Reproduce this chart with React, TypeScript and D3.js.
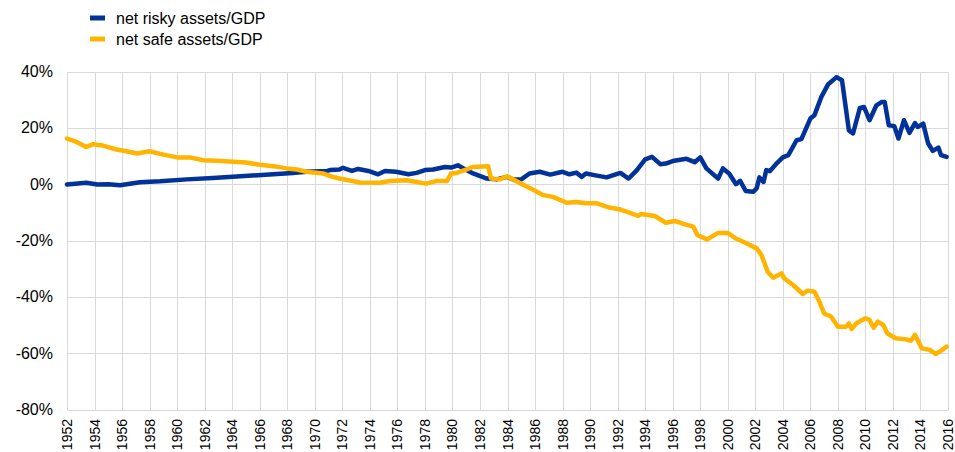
import React, { useEffect, useRef } from 'react';
import * as d3 from 'd3';

// net risky assets / GDP (%)
const riskyYears = [1952.0, 1953.4, 1954.2, 1955.0, 1955.85, 1957.3, 1958.75, 1960.7, 1962.6, 1964.6, 1966.7, 1968.4, 1969.4, 1970.9, 1971.1, 1971.8, 1972.05, 1972.7, 1973.15, 1973.9, 1974.6, 1975.1, 1975.9, 1976.8, 1977.4, 1978.0, 1978.6, 1979.45, 1979.9, 1980.4, 1980.8, 1981.5, 1982.5, 1983.2, 1983.95, 1984.4, 1985.0, 1985.6, 1986.35, 1987.1, 1988.0, 1988.5, 1989.0, 1989.4, 1989.7, 1990.3, 1991.2, 1992.2, 1992.8, 1993.4, 1994.0, 1994.5, 1995.1, 1995.5, 1996.0, 1997.0, 1997.6, 1998.0, 1998.45, 1998.8, 1999.3, 1999.65, 2000.1, 2000.6, 2000.9, 2001.3, 2001.85, 2002.1, 2002.3, 2002.6, 2002.8, 2003.05, 2003.5, 2004.0, 2004.4, 2005.0, 2005.35, 2006.0, 2006.3, 2006.8, 2007.3, 2007.9, 2008.3, 2008.6, 2008.8, 2009.1, 2009.6, 2009.9, 2010.3, 2010.8, 2011.2, 2011.4, 2011.7, 2012.1, 2012.4, 2012.8, 2013.2, 2013.6, 2013.8, 2014.2, 2014.55, 2014.9, 2015.3, 2015.5, 2015.9];
const riskyValues = [-0.1, 0.5, -0.1, 0.0, -0.4, 0.7, 1.0, 1.7, 2.2, 2.8, 3.4, 4.0, 4.4, 4.7, 5.0, 5.2, 5.8, 4.7, 5.4, 4.7, 3.5, 4.7, 4.4, 3.5, 4.0, 5.0, 5.2, 6.1, 5.9, 6.7, 5.6, 3.8, 2.0, 1.7, 2.6, 1.7, 1.7, 3.8, 4.4, 3.4, 4.4, 3.5, 4.1, 2.6, 3.8, 3.2, 2.4, 4.0, 2.0, 5.0, 8.8, 9.7, 7.1, 7.3, 8.2, 9.0, 7.8, 9.5, 5.6, 4.1, 2.0, 5.6, 3.8, 0.0, 1.2, -2.4, -2.7, -1.5, 2.4, 0.8, 5.0, 4.6, 7.1, 9.5, 10.3, 15.6, 16.0, 23.3, 24.5, 31.0, 35.5, 38.0, 36.9, 26.2, 19.1, 18.0, 27.1, 27.4, 22.7, 28.0, 29.2, 29.2, 20.9, 20.6, 16.2, 22.7, 18.2, 21.7, 20.3, 21.5, 14.5, 11.8, 13.0, 10.3, 9.7];

// net safe assets / GDP (%)
const safeYears = [1952.0, 1952.7, 1953.4, 1953.9, 1954.6, 1955.6, 1956.3, 1957.1, 1958.0, 1959.0, 1960.0, 1960.9, 1961.9, 1962.9, 1964.1, 1965.0, 1966.0, 1967.0, 1967.95, 1968.7, 1969.4, 1970.6, 1971.3, 1971.8, 1973.3, 1974.7, 1975.45, 1976.7, 1977.4, 1978.1, 1978.8, 1979.6, 1979.9, 1980.3, 1981.0, 1981.5, 1982.6, 1982.8, 1983.45, 1983.95, 1984.4, 1985.1, 1985.9, 1986.6, 1987.3, 1988.3, 1989.0, 1989.7, 1990.5, 1991.4, 1992.2, 1992.8, 1993.5, 1993.7, 1994.7, 1995.5, 1996.2, 1996.9, 1997.5, 1997.8, 1998.5, 1999.3, 2000.0, 2000.6, 2001.35, 2002.1, 2002.45, 2002.9, 2003.3, 2003.65, 2003.9, 2004.1, 2004.75, 2005.45, 2005.8, 2006.3, 2006.6, 2007.0, 2007.5, 2008.0, 2008.6, 2008.8, 2009.0, 2009.35, 2010.0, 2010.3, 2010.6, 2010.9, 2011.3, 2011.6, 2012.2, 2012.95, 2013.3, 2013.6, 2014.1, 2014.7, 2015.1, 2015.5, 2015.9];
const safeValues = [16.2, 15.0, 13.2, 14.2, 13.7, 12.3, 11.7, 10.9, 11.7, 10.5, 9.5, 9.5, 8.5, 8.3, 8.0, 7.7, 6.9, 6.4, 5.6, 5.2, 4.4, 3.8, 2.6, 2.0, 0.6, 0.5, 1.1, 1.4, 0.8, 0.2, 1.1, 1.1, 3.8, 4.0, 5.2, 6.1, 6.4, 2.0, 1.7, 2.8, 1.7, -0.1, -2.1, -3.9, -4.5, -6.6, -6.3, -6.8, -6.8, -8.3, -9.0, -10.0, -11.3, -10.6, -11.3, -13.7, -13.1, -14.3, -15.1, -18.1, -19.6, -17.3, -17.3, -19.3, -21.0, -22.8, -25.2, -31.1, -33.2, -32.3, -31.7, -33.4, -35.8, -39.0, -37.8, -38.2, -41.1, -45.9, -47.0, -50.6, -50.6, -49.4, -51.4, -49.4, -47.6, -48.2, -51.0, -48.8, -50.0, -53.0, -54.7, -55.1, -55.6, -53.5, -58.3, -58.9, -60.3, -59.1, -57.7];

const yTicks = [40, 20, 0, -20, -40, -60, -80];
const xTicks = d3.range(1952, 2017, 2);

const series = [
    { name: 'net risky assets/GDP', years: riskyYears, values: riskyValues, color: '#003299' },
    { name: 'net safe assets/GDP', years: safeYears, values: safeValues, color: '#FFB400' },
];

const FONT = '"Liberation Sans", Arial, sans-serif';

const App = () => {
    const svgRef = useRef(null);

    useEffect(() => {
        const svg = d3.select(svgRef.current);
        svg.selectAll('*').remove();

        const x = d3.scaleLinear().domain([1952, 2016]).range([67, 948]);
        const y = d3.scaleLinear().domain([-80, 40]).range([409.5, 71.5]);
        const crisp = v => Math.round(v) + 0.5;

        // grid
        svg.append('g')
            .selectAll('line')
            .data(yTicks)
            .enter()
            .append('line')
            .attr('x1', crisp(x(1952)))
            .attr('x2', crisp(x(2016)))
            .attr('y1', d => crisp(y(d)))
            .attr('y2', d => crisp(y(d)))
            .attr('stroke', '#d9d9d9')
            .attr('stroke-width', 1);

        svg.append('g')
            .selectAll('line')
            .data(xTicks)
            .enter()
            .append('line')
            .attr('x1', d => crisp(x(d)))
            .attr('x2', d => crisp(x(d)))
            .attr('y1', crisp(y(40)))
            .attr('y2', crisp(y(-80)))
            .attr('stroke', '#d9d9d9')
            .attr('stroke-width', 1);

        // y labels
        svg.append('g')
            .selectAll('text')
            .data(yTicks)
            .enter()
            .append('text')
            .attr('x', 53)
            .attr('y', d => y(d) + 5.5)
            .attr('text-anchor', 'end')
            .attr('font-family', FONT)
            .attr('font-size', 16)
            .attr('fill', '#000')
            .text(d => `${d}%`);

        // x labels, rotated
        svg.append('g')
            .selectAll('text')
            .data(xTicks)
            .enter()
            .append('text')
            .attr('transform', d => `translate(${x(d) + 5},419) rotate(-90)`)
            .attr('text-anchor', 'end')
            .attr('font-family', FONT)
            .attr('font-size', 14)
            .attr('fill', '#000')
            .text(d => d);

        // lines
        const line = d3.line()
            .x(d => x(d[0]))
            .y(d => y(d[1]));

        series.forEach(s => {
            svg.append('path')
                .datum(s.years.map((yr, i) => [yr, s.values[i]]))
                .attr('d', line)
                .attr('fill', 'none')
                .attr('stroke', s.color)
                .attr('stroke-width', 4.5)
                .attr('stroke-linejoin', 'round')
                .attr('stroke-linecap', 'round');
        });

        // legend
        const legend = svg.append('g');
        series.forEach((s, i) => {
            legend.append('rect')
                .attr('x', 90)
                .attr('y', 15.5 + i * 21)
                .attr('width', 15)
                .attr('height', 5)
                .attr('fill', s.color);
            legend.append('text')
                .attr('x', 116)
                .attr('y', 24 + i * 20.5)
                .attr('font-family', FONT)
                .attr('font-size', 16)
                .attr('fill', '#000')
                .text(s.name);
        });
    }, []);

    return (
        <svg
            ref={svgRef}
            width={955}
            height={452}
            style={{ position: 'absolute', left: 0, top: 0, background: '#fff' }}
        ></svg>
    );
};

export default App;
